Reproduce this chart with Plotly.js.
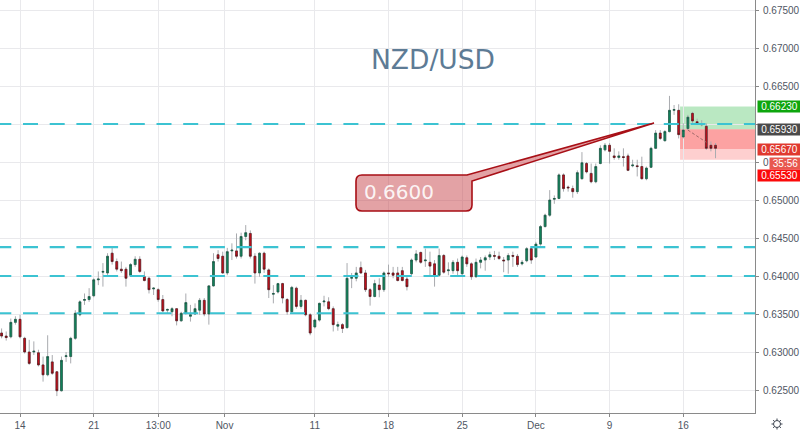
<!DOCTYPE html>
<html><head><meta charset="utf-8">
<script src="https://cdn.plot.ly/plotly-3.0.1.min.js"></script>
<style>html,body{margin:0;padding:0;background:#fff}#c{width:800px;height:434px}</style>
</head><body><div id="c"></div>
<script>
const opens=[.6325,.6321,.6320,.6339,.6343,.6318,.6300,.6300,.6299,.6283,.6270,.6287,.6274,.6249,.6294,.6294,.6318,.6349,.6368,.6369,.6374,.6395,.6405,.6404,.6430,.6419,.6409,.6409,.6401,.6415,.6422,.6399,.6397,.6383,.6382,.6369,.6355,.6353,.6357,.6341,.6351,.6347,.6350,.6355,.6368,.6350,.6387,.6428,.6426,.6404,.6433,.6433,.6426,.6452,.6456,.6426,.6404,.6430,.6408,.6376,.6379,.6390,.6369,.6353,.6384,.6360,.6368,.6349,.6333,.6342,.6366,.6366,.6357,.6334,.6336,.6332,.6397,.6397,.6411,.6404,.6382,.6373,.6388,.6382,.6404,.6404,.6404,.6407,.6396,.6403,.6421,.6431,.6420,.6418,.6416,.6401,.6427,.6407,.6407,.6418,.6403,.6424,.6416,.6399,.6418,.6421,.6425,.6427,.6426,.6421,.6421,.6427,.6426,.6416,.6420,.6436,.6425,.6442,.6465,.6480,.6501,.6502,.6533,.6517,.6515,.6511,.6528,.6548,.6535,.6524,.6548,.6566,.6572,.6558,.6556,.6557,.6558,.6545,.6545,.6544,.6528,.6543,.6568,.6588,.6578,.6590,.6618,.6618,.6583,.6594,.6614,.6603,.6599,.6597,.6572,.6572];
const closes=[.6321,.6319,.6339,.6343,.6320,.6300,.6285,.6301,.6283,.6270,.6294,.6272,.6249,.6289,.6295,.6318,.6351,.6366,.6369,.6373,.6395,.6396,.6406,.6426,.6419,.6409,.6407,.6397,.6415,.6422,.6406,.6394,.6382,.6384,.6369,.6354,.6356,.6357,.6341,.6351,.6365,.6349,.6357,.6368,.6350,.6387,.6419,.6423,.6404,.6432,.6434,.6426,.6452,.6457,.6426,.6404,.6430,.6409,.6382,.6377,.6390,.6371,.6353,.6385,.6360,.6368,.6349,.6325,.6342,.6364,.6367,.6357,.6336,.6336,.6331,.6397,.6398,.6404,.6404,.6382,.6373,.6390,.6382,.6404,.6403,.6401,.6394,.6394,.6386,.6421,.6429,.6418,.6421,.6413,.6401,.6427,.6405,.6408,.6418,.6407,.6425,.6416,.6399,.6418,.6421,.6424,.6428,.6426,.6423,.6420,.6427,.6426,.6415,.6418,.6436,.6421,.6442,.6465,.6480,.6500,.6502,.6533,.6515,.6516,.6511,.6536,.6549,.6537,.6524,.6544,.6568,.6572,.6564,.6556,.6558,.6556,.6539,.6546,.6544,.6528,.6542,.6568,.6588,.6581,.6590,.6618,.6619,.6586,.6592,.6609,.6604,.6601,.6600,.6568,.6568,.6568];
const highs=[.6331,.6327,.6344,.6347,.6349,.6320,.6316,.6314,.6303,.6294,.6322,.6296,.6274,.6294,.6300,.6320,.6355,.6368,.6377,.6384,.6397,.6406,.6417,.6430,.6438,.6423,.6419,.6412,.6417,.6426,.6426,.6406,.6399,.6385,.6384,.6375,.6357,.6359,.6357,.6353,.6377,.6362,.6364,.6371,.6371,.6388,.6430,.6434,.6432,.6437,.6443,.6456,.6457,.6467,.6460,.6430,.6431,.6432,.6410,.6388,.6391,.6391,.6371,.6387,.6386,.6375,.6369,.6351,.6344,.6365,.6374,.6372,.6360,.6340,.6338,.6417,.6404,.6412,.6419,.6408,.6384,.6395,.6397,.6406,.6415,.6412,.6412,.6412,.6401,.6423,.6434,.6432,.6436,.6432,.6421,.6436,.6429,.6418,.6421,.6423,.6427,.6427,.6418,.6423,.6425,.6427,.6432,.6433,.6432,.6425,.6430,.6432,.6429,.6421,.6438,.6438,.6445,.6467,.6482,.6513,.6506,.6535,.6535,.6519,.6519,.6539,.6563,.6550,.6548,.6548,.6572,.6575,.6575,.6568,.6564,.6568,.6561,.6553,.6553,.6557,.6544,.6570,.6592,.6592,.6592,.6637,.6625,.6626,.6601,.6612,.6616,.6607,.6605,.6601,.6577,.6575];
const lows=[.6318,.6315,.6318,.6336,.6318,.6298,.6283,.6296,.6281,.6261,.6268,.6270,.6242,.6248,.6287,.6285,.6316,.6347,.6362,.6366,.6372,.6388,.6386,.6401,.6415,.6406,.6404,.6386,.6399,.6412,.6404,.6393,.6377,.6375,.6366,.6353,.6351,.6347,.6335,.6340,.6349,.6340,.6349,.6349,.6347,.6336,.6386,.6419,.6403,.6401,.6421,.6423,.6423,.6447,.6423,.6390,.6399,.6404,.6371,.6364,.6377,.6364,.6349,.6351,.6357,.6357,.6347,.6322,.6331,.6340,.6360,.6355,.6327,.6328,.6325,.6331,.6384,.6393,.6403,.6379,.6361,.6372,.6372,.6379,.6399,.6397,.6393,.6393,.6381,.6401,.6418,.6416,.6412,.6401,.6386,.6399,.6403,.6401,.6403,.6401,.6401,.6412,.6395,.6398,.6410,.6407,.6421,.6421,.6421,.6405,.6403,.6412,.6412,.6414,.6418,.6416,.6424,.6440,.6464,.6478,.6495,.6501,.6511,.6511,.6503,.6508,.6527,.6535,.6522,.6522,.6547,.6564,.6548,.6553,.6553,.6544,.6538,.6543,.6531,.6527,.6526,.6542,.6567,.6579,.6577,.6589,.6612,.6581,.6581,.6592,.6601,.6599,.6597,.6566,.6564,.6555];

const tickIdx=[4,20,34,48.4,68,84,100,116,132,148];
const tickLabels=['14','21','13:00','Nov','11','18','25','Dec','9','16'];
const priceTicks=[.675,.67,.665,.66,.655,.65,.645,.64,.635,.63,.625];
const priceLabels=['0.67500','0.67000','0.66500','','0','0.65000','0.64500','0.64000','0.63500','0.63000','0.62500'];
const levels=[.66,.6438,.64,.6351];
const zoneTop=.6623,zoneEntry=.6593,zoneLast=.6567,zoneStop=.6553;
const zoneStart=147.3;
const idx=opens.map((_,i)=>i);

const W=800,H=434,PW=755,PH=413;
const px=x=>x/PW, py=y=>1-y/PH;
const xr=[-0.347,163.57], yr=[.621974,.676316];

const upC='#12855c',dnC='#c8101c';
const wicks={type:'candlestick',x:idx,open:opens,close:closes,high:highs,low:lows,hoverinfo:'skip',showlegend:false,
  increasing:{line:{color:'#a9abaf',width:1},fillcolor:'rgba(0,0,0,0)'},decreasing:{line:{color:'#a9abaf',width:1},fillcolor:'rgba(0,0,0,0)'}};
const bodyHi=opens.map((o,i)=>Math.max(o,closes[i])), bodyLo=opens.map((o,i)=>Math.min(o,closes[i]));
const bodies={type:'candlestick',x:idx,open:opens,close:closes,high:bodyHi,low:bodyLo,hoverinfo:'skip',showlegend:false,
  increasing:{line:{color:'#15503e',width:.6},fillcolor:upC},decreasing:{line:{color:'#4a1015',width:.6},fillcolor:dnC}};

const shapes=[];
const rect=(y0,y1,fill)=>({type:'rect',xref:'x',yref:'y',x0:zoneStart,x1:xr[1],y0,y1,fillcolor:fill,line:{width:0},layer:'below'});
shapes.push(rect(zoneEntry,zoneTop,'rgba(90,200,110,.42)'));
shapes.push(rect(zoneLast,zoneEntry,'rgba(250,70,70,.5)'));
shapes.push(rect(zoneStop,zoneLast,'rgba(250,70,70,.26)'));
levels.forEach(v=>shapes.push({type:'line',xref:'paper',yref:'y',x0:px(-3.7),x1:1,y0:v,y1:v,layer:'above',line:{color:'#3cc3d2',width:2.2,dash:'15px,11.7px'}}));
shapes.push({type:'line',xref:'x',yref:'y',x0:149,x1:153,y0:.6592,y1:.6576,line:{color:'#a06a6a',width:1,dash:'3px,2px'}});
const bx0=356,bx1=472,by0=175,by1=211,r=6;
const pt=(x,y)=>px(x).toFixed(5)+','+py(y).toFixed(5);
const calloutPath='M'+pt(bx0+r,by0)+' L'+pt(467,by0)+' L'+pt(654,123)+' L'+pt(bx1,181)+' L'+pt(bx1,by1-r)+' Q'+pt(bx1,by1)+' '+pt(bx1-r,by1)+' L'+pt(bx0+r,by1)+' Q'+pt(bx0,by1)+' '+pt(bx0,by1-r)+' L'+pt(bx0,by0+r)+' Q'+pt(bx0,by0)+' '+pt(bx0+r,by0)+' Z';
shapes.push({type:'path',xref:'paper',yref:'paper',path:calloutPath,fillcolor:'rgba(200,70,75,.5)',line:{color:'#a80f16',width:1.6},layer:'above'});
const gx=777,gy=424;
shapes.push({type:'circle',xref:'paper',yref:'paper',x0:px(gx-3.5),x1:px(gx+3.5),y0:py(gy+3.5),y1:py(gy-3.5),line:{color:'#3d4450',width:1}});
for(let a=0;a<8;a++){const t=a*Math.PI/4;shapes.push({type:'line',xref:'paper',yref:'paper',x0:px(gx+3.5*Math.cos(t)),y0:py(gy+3.5*Math.sin(t)),x1:px(gx+5.5*Math.cos(t)),y1:py(gy+5.5*Math.sin(t)),line:{color:'#3d4450',width:1}});}

const lab=(text,y,bg,opts)=>Object.assign({xref:'paper',yref:'y',x:px(757),y,xanchor:'left',yanchor:'middle',text,showarrow:false,
  font:{family:'Liberation Sans',size:10,color:'#fff'},bgcolor:bg,width:43,height:11,borderpad:0,align:'center'},opts||{});
const annotations=[
 lab('0.66230',zoneTop,'#0ea60e'),
 lab('0.65930',zoneEntry,'#4a4a4a'),
 lab('0.65670',zoneLast,'#e0392f'),
 lab('35:56',.6551,'#e8574e',{x:px(769),width:31,yshift:-2}),
 lab('0.65530',zoneStop,'#fb0a0a',{yshift:-16}),
 {xref:'paper',yref:'paper',x:px(362),y:py(192),xanchor:'left',yanchor:'middle',text:'0.6600',showarrow:false,font:{family:'DejaVu Sans',size:20,color:'rgba(255,255,255,.9)'}}
];

Plotly.newPlot('c',[wicks,bodies],{
 width:W,height:H,paper_bgcolor:'#fff',plot_bgcolor:'#fff',showlegend:false,
 margin:{l:0,r:45,t:0,b:21,pad:0},
 title:{text:'NZD/USD',x:433/W,y:1-60/H,xanchor:'center',yanchor:'middle',xref:'container',yref:'container',font:{family:'DejaVu Sans',size:26.5,color:'#5d7b95'}},
 xaxis:{range:xr,rangeslider:{visible:false},tickmode:'array',tickvals:tickIdx,ticktext:tickLabels,ticks:'outside',ticklen:3,tickcolor:'#888',
   showgrid:true,gridcolor:'#e9e9ec',gridwidth:1,zeroline:false,showline:true,linecolor:'#8a8a8a',linewidth:1,tickfont:{family:'Liberation Sans',size:10,color:'#4f5663'}},
 yaxis:{range:yr,side:'right',tickmode:'array',tickvals:priceTicks,ticktext:priceLabels,ticks:'outside',ticklen:3,ticklabelstandoff:2,tickcolor:'#888',
   showgrid:true,gridcolor:'#e9e9ec',gridwidth:1,zeroline:false,showline:true,linecolor:'#8a8a8a',linewidth:1,tickfont:{family:'Liberation Sans',size:10,color:'#4f5663'}},
 shapes,annotations,boxgap:.42
},{staticPlot:true,displayModeBar:false});
</script></body></html>
